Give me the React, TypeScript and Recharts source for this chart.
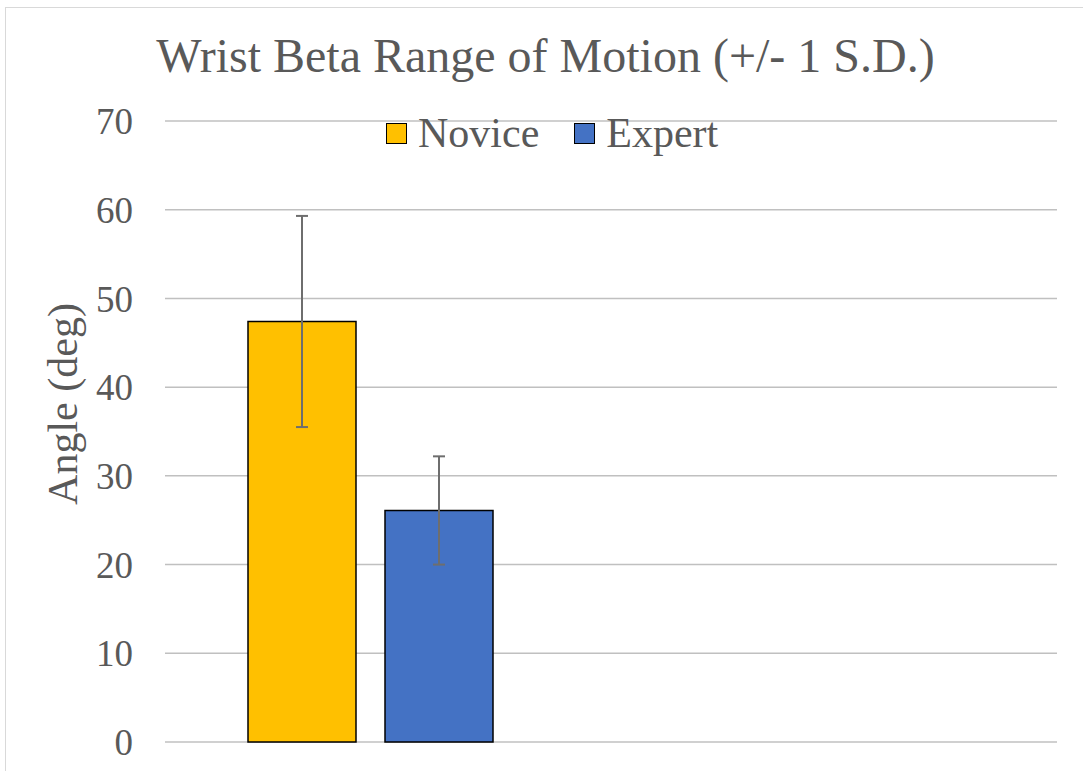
import React from 'react';
import { BarChart, Bar, XAxis, YAxis, CartesianGrid, ErrorBar, Legend } from 'recharts';

const categories = ['Wrist Beta'];
const seriesNames = ['Novice', 'Expert'];
const seriesColors = ['#FFC000', '#4472C4'];
const noviceMeans = [47.4];
const noviceSDs = [11.9];
const expertMeans = [26.1];
const expertSDs = [6.1];
const yTicks = [0, 10, 20, 30, 40, 50, 60, 70];
const chartTitle = 'Wrist Beta Range of Motion (+/- 1 S.D.)';
const yAxisTitle = 'Angle (deg)';

const data = categories.map((c, i) => ({
  category: c,
  novice: noviceMeans[i],
  noviceSd: noviceSDs[i],
  expert: expertMeans[i],
  expertSd: expertSDs[i],
}));

const FONT = '"Liberation Serif", "Times New Roman", Times, serif';
const TEXT = '#595959';

const renderLegend = (props: any) => {
  const payload = [...(props.payload || [])].sort(
    (a: any, b: any) => seriesNames.indexOf(a.value) - seriesNames.indexOf(b.value)
  );
  return (
    <div
      style={{
        display: 'flex',
        alignItems: 'center',
        height: 42,
        fontFamily: FONT,
        fontSize: 42,
        lineHeight: '42px',
        color: TEXT,
        whiteSpace: 'nowrap',
      }}
    >
      {payload.map((e: any, i: number) => (
        <div key={i} style={{ display: 'flex', alignItems: 'center', marginRight: i === 0 ? 35 : 0 }}>
          <span
            style={{
              display: 'inline-block',
              width: 21,
              height: 21,
              boxSizing: 'border-box',
              background: e.color,
              border: '1.5px solid #000',
              marginRight: 11,
            }}
          />
          <span>{e.value}</span>
        </div>
      ))}
    </div>
  );
};

export default function App() {
  return (
    <div
      style={{
        position: 'absolute',
        left: 0,
        top: 0,
        width: 1083,
        height: 771,
        overflow: 'hidden',
        background: '#fff',
      }}
    >
      <div
        style={{
          position: 'absolute',
          left: 5,
          top: 7,
          width: 1200,
          height: 900,
          border: '1.5px solid #d9d9d9',
        }}
      />
      <div style={{ position: 'absolute', left: 0, top: 0 }}>
        <BarChart
          width={1083}
          height={771}
          data={data}
          margin={{ top: 79, right: 26, bottom: 29, left: 105 }}
          barGap={29}
        >
          <CartesianGrid vertical={false} stroke="#c0c0c0" strokeWidth={1.5} />
          <XAxis dataKey="category" hide padding={{ left: 0, right: 482 }} />
          <YAxis
            width={60}
            domain={[0, 70]}
            ticks={yTicks}
            interval={0}
            axisLine={false}
            tickLine={false}
            tickSize={0}
            tickMargin={32}
            tick={{ fill: TEXT, fontSize: 37, fontFamily: FONT }}
          />
          <Legend
            verticalAlign="top"
            content={renderLegend}
            wrapperStyle={{ top: 112, left: 386, width: 'auto' }}
          />
          <Bar
            dataKey="novice"
            name={seriesNames[0]}
            fill={seriesColors[0]}
            stroke="#000"
            strokeWidth={1.5}
            barSize={108}
            isAnimationActive={false}
          >
            <ErrorBar dataKey="noviceSd" direction="y" width={6} stroke="#6e6e6e" strokeWidth={2} />
          </Bar>
          <Bar
            dataKey="expert"
            name={seriesNames[1]}
            fill={seriesColors[1]}
            stroke="#000"
            strokeWidth={1.5}
            barSize={108}
            isAnimationActive={false}
          >
            <ErrorBar dataKey="expertSd" direction="y" width={6} stroke="#6e6e6e" strokeWidth={2} />
          </Bar>
        </BarChart>
      </div>
      <svg
        width={1083}
        height={771}
        style={{ position: 'absolute', left: 0, top: 0, pointerEvents: 'none' }}
      >
        <text x={545.5} y={72} textAnchor="middle" fontFamily={FONT} fontSize={48} fill={TEXT}>
          {chartTitle}
        </text>
        <text
          x={77}
          y={404}
          textAnchor="middle"
          transform="rotate(-90, 77, 404)"
          fontFamily={FONT}
          fontSize={42}
          fill={TEXT}
        >
          {yAxisTitle}
        </text>
      </svg>
    </div>
  );
}
